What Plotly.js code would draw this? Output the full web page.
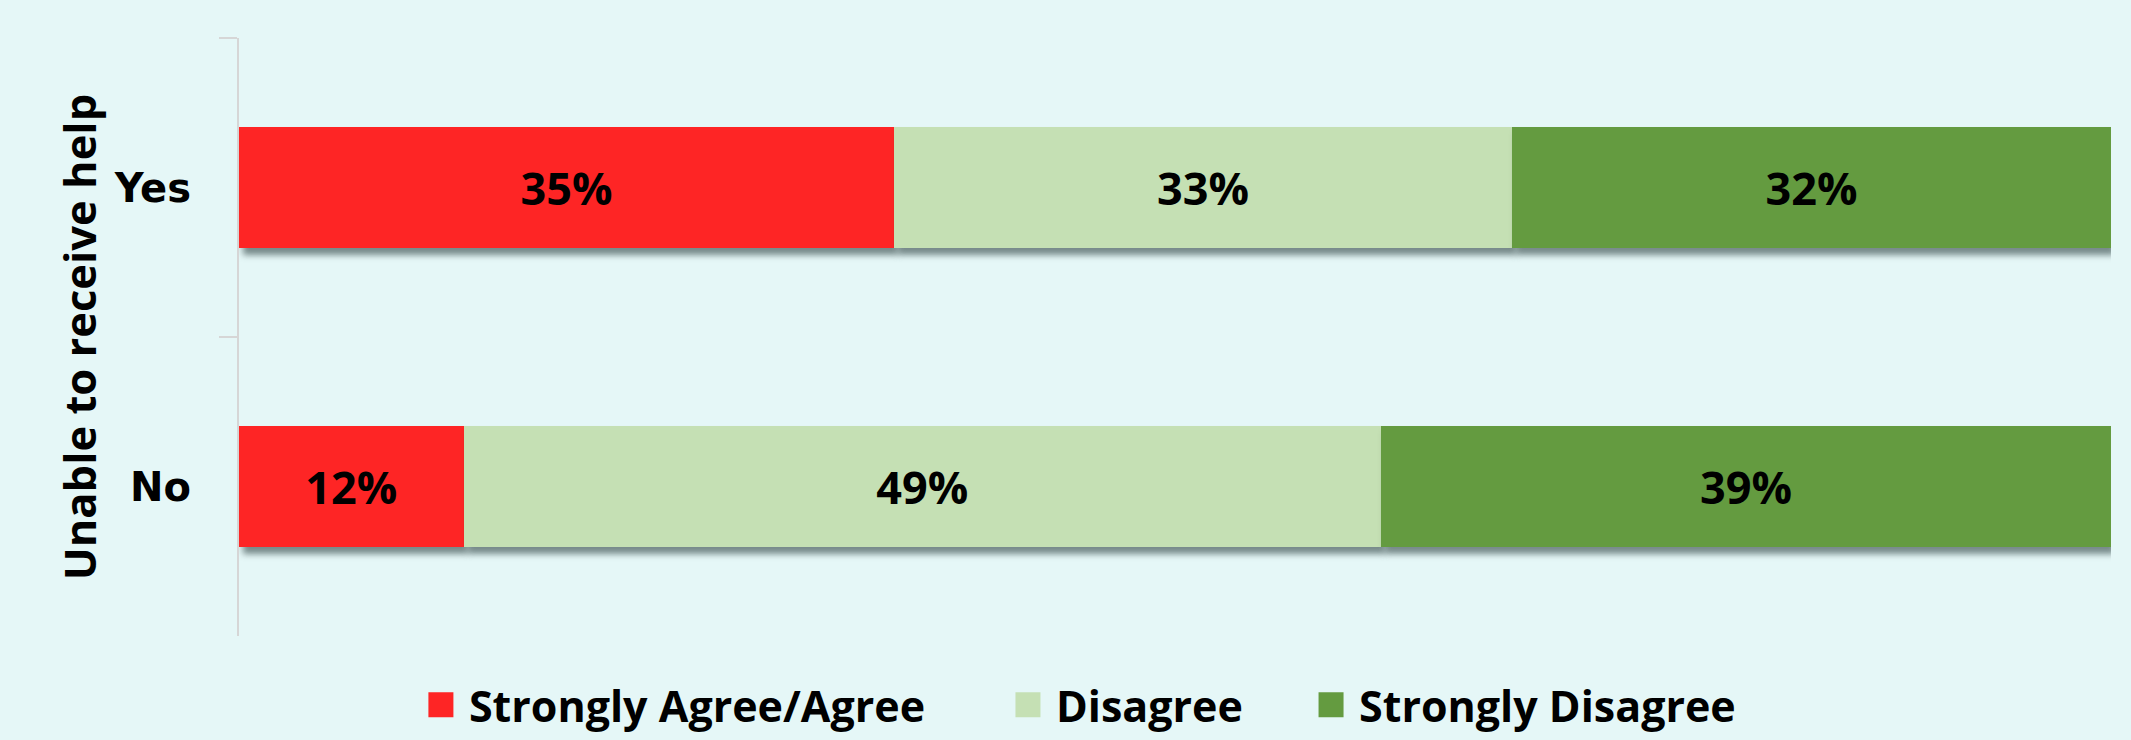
<!DOCTYPE html>
<html>
<head>
<meta charset="utf-8">
<script src="https://cdn.plot.ly/plotly-3.0.1.min.js"></script>
<style>
html,body{margin:0;padding:0;background:#E5F7F7;}
#chart{width:2131px;height:740px;}
.barlayer .trace path{filter: drop-shadow(4px 7px 3px rgba(30,50,50,0.55));}
</style>
</head>
<body>
<div id="chart"></div>
<script>
const categories = ["Yes", "No"];
const seriesNames = ["Strongly Agree/Agree", "Disagree", "Strongly Disagree"];
const agree = [35, 12];
const disagree = [33, 49];
const stronglyDisagree = [32, 39];
const yTitle = "Unable to receive help";

const colors = ["#FE2525", "#C5E0B4", "#649B40"];
const values = [agree, disagree, stronglyDisagree];
const legendIds = ["legend", "legend2", "legend3"];
const legendX = [0.0929, 0.4065, 0.5684];

const traces = values.map((v, i) => ({
  type: "bar",
  orientation: "h",
  name: seriesNames[i],
  legend: legendIds[i],
  x: v,
  y: categories,
  width: 0.405,
  marker: {color: colors[i], line: {width: 0}},
  texttemplate: "%{x}%",
  textposition: "inside",
  insidetextanchor: "middle",
  constraintext: "none",
  textfont: {family: "Open Sans", size: 45, color: "#000000", weight: 700},
  hoverinfo: "skip"
}));

const legendFont = {family: "Open Sans", size: 43, color: "#000000", weight: 700};
const layout = {
  width: 2131,
  height: 740,
  paper_bgcolor: "#E5F7F7",
  plot_bgcolor: "#E5F7F7",
  barmode: "stack",
  margin: {l: 239, r: 20, t: 38, b: 104, autoexpand: false},
  xaxis: {range: [0, 100], visible: false, fixedrange: true},
  yaxis: {
    type: "category",
    categoryorder: "array",
    categoryarray: categories,
    autorange: "reversed",
    showline: true,
    linecolor: "#D6D6D6",
    linewidth: 2,
    ticks: "outside",
    tickson: "boundaries",
    ticklen: 18,
    tickwidth: 2,
    tickcolor: "#D6D6D6",
    ticklabelstandoff: 38,
    showgrid: false,
    zeroline: false,
    tickfont: {family: "DejaVu Sans", size: 40, color: "#000000", weight: 700},
    title: {text: yTitle, standoff: 4, font: {family: "Open Sans", size: 43.5, color: "#000000", weight: 700}}
  },
  showlegend: true
};
legendIds.forEach((id, i) => {
  layout[id] = {
    orientation: "h",
    x: legendX[i],
    xanchor: "left",
    y: -0.115,
    yanchor: "middle",
    itemwidth: 46,
    bgcolor: "rgba(0,0,0,0)",
    borderwidth: 0,
    font: legendFont
  };
});

Plotly.newPlot("chart", traces, layout, {displayModeBar: false, staticPlot: true}).then(() => {
  document.querySelectorAll(".legendpoints path").forEach(p => {
    p.setAttribute("d", "M12.5,12.5H-12.5V-12.5H12.5Z");
  });
});
</script>
</body>
</html>
